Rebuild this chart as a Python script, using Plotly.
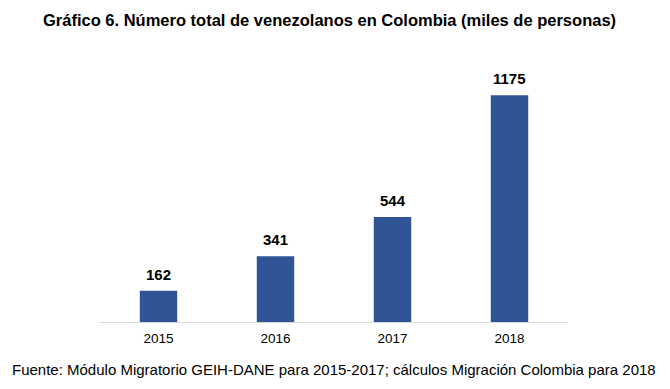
import plotly.graph_objects as go

years = ["2015", "2016", "2017", "2018"]
values = [162, 341, 544, 1175]
title_text = "Gráfico 6. Número total de venezolanos en Colombia (miles de personas)"
source_text = "Fuente: Módulo Migratorio GEIH-DANE para 2015-2017; cálculos Migración Colombia para 2018"

fig = go.Figure(go.Bar(
    x=years, y=values,
    marker=dict(color="#2F5597", line=dict(width=0)),
    width=0.32,
    hoverinfo="x+y",
))

value_labels = [
    dict(x=i, y=v, xref="x", yref="y", text=f"<b>{v}</b>", showarrow=False,
         xanchor="center", yanchor="bottom", yshift=6,
         font=dict(family="Liberation Sans, Arial", size=15, color="#000000"))
    for i, v in enumerate(values)
]

fig.update_layout(
    width=662, height=381,
    margin=dict(l=92, r=102, t=52, b=67),
    plot_bgcolor="white", paper_bgcolor="white",
    font=dict(family="Liberation Sans, Arial", color="#000000"),
    showlegend=False,
    xaxis=dict(type="category", showline=True, linecolor="#D9D9D9", linewidth=1,
               ticks="", tickfont=dict(size=13.5, color="#000000"), showgrid=False,
               ticklabelstandoff=4),
    yaxis=dict(range=[0, 1357], visible=False, showgrid=False),
    annotations=value_labels + [
        dict(text=f"<b>{title_text}</b>", xref="paper", yref="paper",
             x=0.49, y=1, xanchor="center", yanchor="middle",
             yshift=40, showarrow=False,
             font=dict(size=16.5, color="#000000")),
        dict(text=source_text, xref="paper", yref="paper",
             x=0.5, y=0, xanchor="center", yanchor="middle",
             yshift=-47, showarrow=False,
             font=dict(size=15, color="#000000")),
    ],
)

fig.write_html("out.html")
